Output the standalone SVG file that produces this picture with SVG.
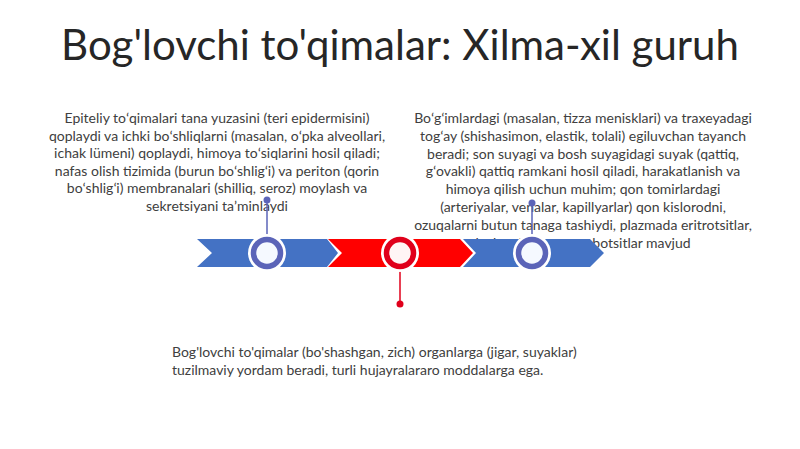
<svg xmlns="http://www.w3.org/2000/svg" width="800" height="449" viewBox="0 0 800 449">
<defs>
<style>
.title{font-family:Lato,"Liberation Sans",sans-serif;font-size:42px;fill:#262626}
.body{font-family:Lato,"Liberation Sans",sans-serif;font-size:14px;fill:#404040}
.c{text-anchor:middle}
.blue{fill:#4472C4}
.red{fill:#FF0000}
.halo{fill:#ffffff}
.ringB{fill:#f5f9ff;stroke:#5B64B8;stroke-width:5.5}
.ringR{fill:#fff5f5;stroke:#E0001B;stroke-width:5.5}
.lnB{stroke:#5B64B8;stroke-width:1.5}
.lnR{stroke:#E0001B;stroke-width:1.5}
</style>
</defs>
<rect width="800" height="449" fill="#ffffff"/>
<text class="title c" x="400" y="60">Bog'lovchi to'qimalar: Xilma-xil guruh</text>

<g id="text-epiteliy" class="body c">
<text x="217" y="123">Epiteliy toʻqimalari tana yuzasini (teri epidermisini)</text>
<text x="217" y="140.6">qoplaydi va ichki boʻshliqlarni (masalan, oʻpka alveollari,</text>
<text x="217" y="158.2">ichak lümeni) qoplaydi, himoya toʻsiqlarini hosil qiladi;</text>
<text x="217" y="175.8">nafas olish tizimida (burun boʻshligʻi) va periton (qorin</text>
<text x="217" y="193.4">boʻshligʻi) membranalari (shilliq, seroz) moylash va</text>
<text x="217" y="211">sekretsiyani taʼminlaydi</text>
</g>
<g id="text-boglovchi-detail" class="body c">
<text x="583" y="123">Boʻgʻimlardagi (masalan, tizza menisklari) va traxeyadagi</text>
<text x="583" y="140.8">togʻay (shishasimon, elastik, tolali) egiluvchan tayanch</text>
<text x="583" y="158.6">beradi; son suyagi va bosh suyagidagi suyak (qattiq,</text>
<text x="583" y="176.4">gʻovakli) qattiq ramkani hosil qiladi, harakatlanish va</text>
<text x="583" y="194.2">himoya qilish uchun muhim; qon tomirlardagi</text>
<text x="583" y="212">(arteriyalar, venalar, kapillyarlar) qon kislorodni,</text>
<text x="583" y="229.8">ozuqalarni butun tanaga tashiydi, plazmada eritrotsitlar,</text>
<text x="583" y="247.6">leykotsitlar va trombotsitlar mavjud</text>
</g>
<g id="text-boglovchi" class="body">
<text x="172" y="357">Bog'lovchi to'qimalar (bo'shashgan, zich) organlarga (jigar, suyaklar)</text>
<text x="172" y="375">tuzilmaviy yordam beradi, turli hujayralararo moddalarga ega.</text>
</g>

<g id="timeline">
<path id="seg1" class="blue" d="M197,239 L327,239 L338,253 L327,267 L197,267 L212,253 Z"/>
<path id="seg2" class="red" d="M328,239 L460,239 L473,253 L460,267 L328,267 L342,253 Z"/>
<path id="seg3" class="blue" d="M463,239 L590,239 L604,253 L590,267 L463,267 L476,253 Z"/>
</g>

<g id="connectors">
<line class="lnB" x1="267" y1="200" x2="267" y2="238"/>
<circle cx="267" cy="200" r="3.5" fill="#5B64B8"/>
<line class="lnR" x1="400" y1="268" x2="400" y2="304"/>
<circle cx="400" cy="304" r="3.5" fill="#E0001B"/>
<line class="lnB" x1="532" y1="203" x2="532" y2="238"/>
<circle cx="532" cy="203" r="3.5" fill="#5B64B8"/>
</g>

<g id="node1">
<circle class="halo" cx="267" cy="253" r="19"/>
<circle class="ringB" cx="267" cy="253" r="13.5"/>
</g>
<g id="node2">
<circle class="halo" cx="400" cy="253" r="19"/>
<circle class="ringR" cx="400" cy="253" r="13.5"/>
</g>
<g id="node3">
<circle class="halo" cx="532" cy="253" r="19"/>
<circle class="ringB" cx="532" cy="253" r="13.5"/>
</g>
</svg>
